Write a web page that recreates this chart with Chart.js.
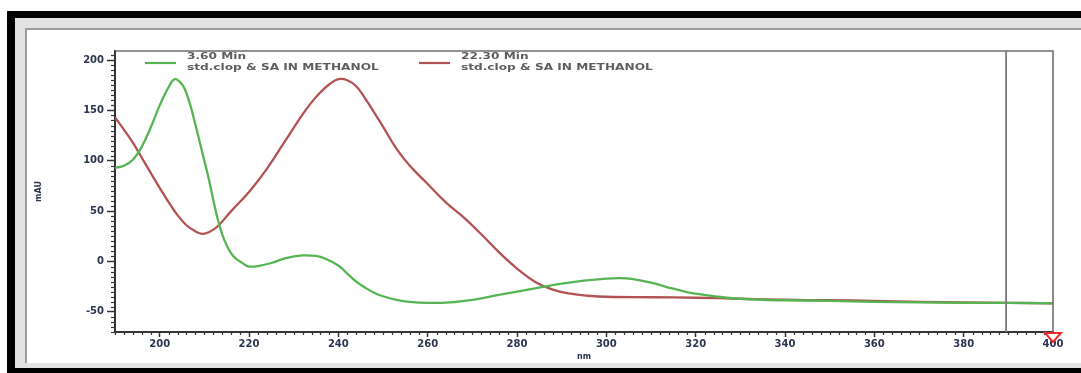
<!DOCTYPE html>
<html>
<head>
<meta charset="utf-8">
<title>UV spectra – std.clop &amp; SA IN METHANOL</title>
<script src="https://cdn.jsdelivr.net/npm/chart.js@4.4.1/dist/chart.umd.min.js"></script>
<style>
  html, body { margin: 0; padding: 0; background: #fff; }
  #wrap { position: relative; width: 1081px; height: 373px; overflow: hidden; }
  .frame-black { position: absolute; left: 7px; top: 11px; right: 0; bottom: 0; background: #000; }
  .frame-gray  { position: absolute; left: 15px; top: 18px; right: 0; bottom: 5px; background: #e3e3e3; }
  .panel       { position: absolute; left: 25px; top: 28px; right: 0; bottom: 10px; background: #fff;
                 border-left: 2px solid #9c9c9c; border-top: 2px solid #9c9c9c; }
  canvas { position: absolute; left: 0; top: 0; }
</style>
</head>
<body>
<div id="wrap">
  <div class="frame-black"></div>
  <div class="frame-gray"></div>
  <div class="panel"></div>
  <canvas id="spec" width="1081" height="373"></canvas>
</div>
<script>
// Spectrum taken at 3.60 min (wavelength in nm, absorbance in mAU)
const greenNm  = [190, 192, 194, 196, 198, 200, 202, 203.4, 205, 206, 207, 208, 209, 210, 211, 212, 213, 214, 215, 216, 217, 218, 219, 220,
                  222, 225, 228, 232, 235, 237, 240, 242, 244, 246, 248, 250, 253, 256, 260, 265, 270, 275, 280, 285, 290, 295, 300, 303,
                  306, 310, 315, 320, 325, 330, 335, 340, 350, 360, 370, 380, 390, 400];
const greenMau = [93, 95, 101, 114, 133, 155, 173, 181, 176, 167, 153, 136, 118, 100, 82, 61, 42, 27, 16, 8, 3, 0, -3, -5,
                  -4.5, -1.5, 3, 6, 5.5, 3, -4, -12, -20, -26, -31, -34.5, -38, -40, -41, -40.5, -38, -34, -30, -26, -22, -19, -17, -16.5,
                  -17.5, -21, -27, -32, -35, -37, -38, -38.5, -39, -40, -40.5, -41, -41, -41.5];

// Spectrum taken at 22.30 min
const redNm  = [190, 192, 194, 196, 198, 200, 202, 204, 206, 208, 209.5, 211, 213, 216, 220, 224, 228, 232, 234, 236, 238, 240, 242,
                244, 246, 248, 250, 253, 256, 260, 264, 268, 272, 276, 280, 284, 288, 292, 296, 300, 310, 320, 330, 340, 350, 360,
                370, 380, 390, 400];
const redMau = [143, 131, 118, 103, 88, 73, 59, 46, 36, 30, 27.5, 29, 35, 50, 69, 92, 119, 146, 158, 168, 176, 181, 180,
                174, 162, 148, 134, 112, 95, 77, 59, 44, 27, 9, -7, -20, -28, -32, -34, -35, -35.5, -36, -37, -38, -38.5, -39,
                -40, -40.5, -41, -41.5];

// Legend entries (two lines each)
const greenLabel = ['3.60 Min', 'std.clop & SA IN METHANOL'];
const redLabel   = ['22.30 Min', 'std.clop & SA IN METHANOL'];

// Axis ticks
const xTicks = [200, 220, 240, 260, 280, 300, 320, 340, 360, 380, 400];
const yTicks = [-50, 0, 50, 100, 150, 200];
const xRange = [190, 400];
const yRange = [-70, 209];

// Spectrum cursor position (nm) and the range-end marker
const cursorNm = 389.5;
const markerNm = 400;

const GREEN = '#55b552';
const RED = '#b35252';
const AXIS = '#343434';
const TEXT = '#2c3550';

const toPoints = (xs, ys) => xs.map((x, i) => ({ x, y: ys[i] }));

// Small intermediate tick marks along both axes
const minorTicks = {
  id: 'minorTicks',
  afterDraw(chart) {
    const { ctx, chartArea: a, scales: { x, y } } = chart;
    ctx.save();
    ctx.strokeStyle = AXIS;
    ctx.lineWidth = 1.2;
    for (let v = Math.ceil(x.min / 2) * 2; v <= x.max; v += 2) {
      if (v % 20 === 0) continue;
      const px = Math.round(x.getPixelForValue(v)) + 0.5;
      ctx.beginPath(); ctx.moveTo(px, a.bottom); ctx.lineTo(px, a.bottom + 3); ctx.stroke();
    }
    for (let v = Math.ceil(y.min / 5) * 5; v <= y.max; v += 5) {
      if (v % 50 === 0) continue;
      const py = Math.round(y.getPixelForValue(v)) + 0.5;
      ctx.beginPath(); ctx.moveTo(a.left, py); ctx.lineTo(a.left - 4, py); ctx.stroke();
    }
    ctx.restore();
  }
};

// Plot box (top/right edges), wavelength cursor and range-end marker
const plotFrame = {
  id: 'plotFrame',
  afterDraw(chart) {
    const { ctx, chartArea: a, scales: { x } } = chart;
    ctx.save();
    ctx.strokeStyle = '#6e6e6e';
    ctx.lineWidth = 1.6;
    ctx.beginPath();
    ctx.moveTo(a.left, a.top); ctx.lineTo(a.right, a.top); ctx.lineTo(a.right, a.bottom);
    ctx.stroke();

    const cx = x.getPixelForValue(cursorNm);
    ctx.strokeStyle = '#7a7a7a';
    ctx.lineWidth = 1.8;
    ctx.beginPath(); ctx.moveTo(cx, a.top); ctx.lineTo(cx, a.bottom); ctx.stroke();

    const mx = x.getPixelForValue(markerNm);
    ctx.fillStyle = '#ffffff';
    ctx.strokeStyle = '#ee2a2a';
    ctx.lineWidth = 2;
    ctx.beginPath();
    ctx.moveTo(mx - 8, a.bottom + 1);
    ctx.lineTo(mx + 8, a.bottom + 1);
    ctx.lineTo(mx, a.bottom + 10);
    ctx.closePath();
    ctx.fill(); ctx.stroke();
    ctx.restore();
  }
};

// Two-line legend with a short line sample per dataset
const spectrumLegend = {
  id: 'spectrumLegend',
  afterDraw(chart, args, opts) {
    const { ctx, chartArea: a } = chart;
    ctx.save();
    chart.data.datasets.forEach((ds, i) => {
      const pos = opts.positions[i];
      const x0 = a.left + pos.dx;
      const y0 = a.top + 12;
      ctx.strokeStyle = ds.borderColor;
      ctx.lineWidth = 2.2;
      ctx.beginPath(); ctx.moveTo(x0, y0); ctx.lineTo(x0 + 31, y0); ctx.stroke();
      ctx.fillStyle = '#5e5e5e';
      ctx.font = 'bold 9.5px "DejaVu Sans"';
      ctx.textBaseline = 'middle';
      ds.label.forEach((line, k) => {
        ctx.save();
        ctx.translate(x0 + 42, y0 - 6 + k * 10.5);
        ctx.scale(1.28, 1);
        ctx.fillText(line, 0, 0);
        ctx.restore();
      });
    });
    ctx.restore();
  }
};

const tickFont = { family: 'DejaVu Sans', size: 10, weight: 'bold' };

new Chart(document.getElementById('spec'), {
  type: 'line',
  data: {
    datasets: [
      { label: greenLabel, data: toPoints(greenNm, greenMau), borderColor: GREEN, borderWidth: 2.3,
        pointRadius: 0, tension: 0.4, fill: false },
      { label: redLabel, data: toPoints(redNm, redMau), borderColor: RED, borderWidth: 2.3,
        pointRadius: 0, tension: 0.4, fill: false }
    ]
  },
  options: {
    responsive: false,
    animation: false,
    devicePixelRatio: 1,
    layout: { padding: { left: 0, top: 51, right: 28, bottom: 0 } },
    plugins: {
      legend: { display: false },
      tooltip: { enabled: false },
      spectrumLegend: { positions: [{ dx: 30 }, { dx: 304 }] }
    },
    scales: {
      x: {
        type: 'linear',
        min: xRange[0], max: xRange[1],
        afterFit(s) { s.height = 41; },
        afterBuildTicks(s) { s.ticks = xTicks.map(v => ({ value: v })); },
        ticks: { font: tickFont, color: TEXT, padding: 1, maxRotation: 0, autoSkip: false },
        grid: { display: true, drawOnChartArea: false, drawTicks: true, tickLength: 5, tickColor: AXIS, tickWidth: 1.5 },
        border: { display: true, color: AXIS, width: 2 },
        title: { display: true, text: 'nm', color: TEXT, font: { family: 'DejaVu Sans', size: 8, weight: 'bold' },
                 padding: { top: 0, bottom: 11 } }
      },
      y: {
        type: 'linear',
        min: yRange[0], max: yRange[1],
        afterFit(s) { s.width = 115; },
        afterBuildTicks(s) { s.ticks = yTicks.map(v => ({ value: v })); },
        ticks: { font: tickFont, color: TEXT, padding: 3, autoSkip: false },
        grid: { display: true, drawOnChartArea: false, drawTicks: true, tickLength: 8, tickColor: AXIS, tickWidth: 1.5 },
        border: { display: true, color: AXIS, width: 2 },
        title: { display: true, text: 'mAU', color: TEXT, font: { family: 'DejaVu Sans', size: 8, weight: 'bold' },
                 padding: { top: 34, bottom: 0 } }
      }
    }
  },
  plugins: [minorTicks, plotFrame, spectrumLegend]
});
</script>
</body>
</html>
